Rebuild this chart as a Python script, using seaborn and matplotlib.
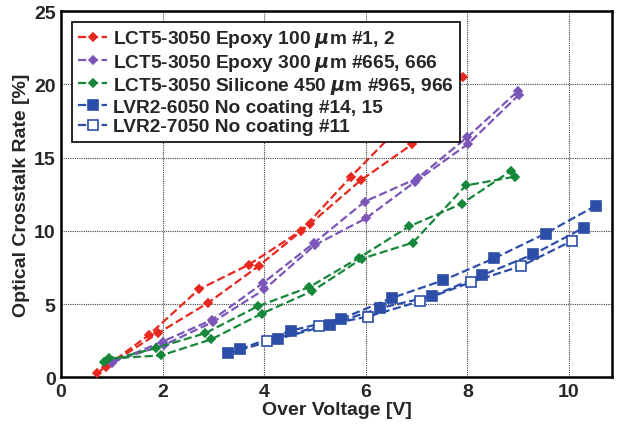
import pandas as pd
import matplotlib
matplotlib.use("Agg")
import matplotlib.pyplot as plt
import seaborn as sns

# Series names (legend order)
series_names = [
    "LCT5-3050 Epoxy 100 $\\mu$m #1, 2",
    "LCT5-3050 Epoxy 300 $\\mu$m #665, 666",
    "LCT5-3050 Silicone 450 $\\mu$m #965, 966",
    "LVR2-6050 No coating #14, 15",
    "LVR2-7050 No coating #11",
]

# red: two devices (#1, #2)
red_x1 = [0.70, 1.73, 2.71, 3.70, 4.72, 5.71, 6.70, 7.76]
red_y1 = [0.27, 2.90, 6.00, 7.70, 10.0, 13.7, 17.2, 20.3]
red_x2 = [0.89, 1.90, 2.90, 3.89, 4.91, 5.90, 6.91, 7.92]
red_y2 = [0.73, 3.00, 5.10, 7.60, 10.5, 13.45, 15.9, 20.5]

# purple: two devices (#665, #666)
pur_x1 = [1.00, 2.00, 2.98, 3.98, 4.99, 5.98, 7.02, 8.00, 9.00]
pur_y1 = [1.00, 2.45, 3.94, 6.45, 9.20, 12.0, 13.6, 16.4, 19.55]
pur_x2 = [1.02, 2.02, 3.00, 4.00, 5.00, 6.00, 6.97, 8.02, 9.02]
pur_y2 = [1.10, 2.20, 3.80, 6.00, 9.04, 10.85, 13.35, 15.95, 19.3]

# green: two devices (#965, #966)
grn_x1 = [0.85, 1.86, 2.84, 3.87, 4.88, 5.86, 6.85, 7.89, 8.86]
grn_y1 = [1.08, 2.00, 3.02, 4.85, 6.15, 8.15, 10.3, 11.85, 14.1]
grn_x2 = [0.95, 1.97, 2.96, 3.95, 4.95, 5.92, 6.93, 7.97, 8.94]
grn_y2 = [1.30, 1.50, 2.60, 4.35, 5.90, 8.10, 9.20, 13.1, 13.7]

# blue filled: two devices (#14, #15)
blu_x1 = [3.29, 4.28, 5.29, 6.29, 7.30, 8.28, 9.30, 10.30]
blu_y1 = [1.65, 2.63, 3.60, 4.74, 5.54, 6.96, 8.40, 10.23]
blu_x2 = [3.52, 4.53, 5.52, 6.52, 7.52, 8.53, 9.54, 10.53]
blu_y2 = [1.92, 3.20, 4.00, 5.43, 6.62, 8.13, 9.82, 11.72]

# blue open: one device (#11)
opn_x = [4.06, 5.07, 6.04, 7.07, 8.07, 9.06, 10.06]
opn_y = [2.50, 3.48, 4.15, 5.20, 6.50, 7.60, 9.32]

colors = ["#e8271f", "#7b56b8", "#17873b", "#2c4ea8", "#2c4ea8"]
markers = ["D", "D", "D", "s", "s"]
marker_sizes = [4.2, 4.2, 4.2, 6.5, 6.5]

groups = [
    [(red_x1, red_y1), (red_x2, red_y2)],
    [(pur_x1, pur_y1), (pur_x2, pur_y2)],
    [(grn_x1, grn_y1), (grn_x2, grn_y2)],
    [(blu_x1, blu_y1), (blu_x2, blu_y2)],
    [(opn_x, opn_y)],
]

rows = []
for name, devices in zip(series_names, groups):
    for k, (xs, ys) in enumerate(devices):
        for x, y in zip(xs, ys):
            rows.append({"series": name, "device": k, "x": x, "y": y})
data = pd.DataFrame(rows)

sns.set_style("white")
plt.rcParams["font.family"] = ["Liberation Sans", "DejaVu Sans"]
plt.rcParams["font.weight"] = "bold"
plt.rcParams["mathtext.default"] = "it"

fig = plt.figure(figsize=(6.17, 4.31), dpi=100)
ax = fig.add_axes([0.099, 0.122, 0.893, 0.85])

for i, name in enumerate(series_names):
    sub = data[data["series"] == name]
    face = "white" if i == 4 else colors[i]
    sns.lineplot(
        data=sub, x="x", y="y", units="device", estimator=None, sort=False,
        color=colors[i], linestyle="--", linewidth=1.6,
        marker=markers[i], markersize=marker_sizes[i],
        markerfacecolor=face, markeredgecolor=colors[i], markeredgewidth=1.2,
        label=name, ax=ax, zorder=3,
    )

ax.set_xlim(0, 10.85)
ax.set_ylim(0, 25)
ax.set_xticks([0, 2, 4, 6, 8, 10])
ax.set_yticks([0, 5, 10, 15, 20, 25])
ax.grid(True, color="#444444", linestyle=(0, (1, 1)), linewidth=0.8)
ax.tick_params(length=0, labelsize=14, pad=4)
for lab in ax.get_xticklabels() + ax.get_yticklabels():
    lab.set_fontweight("bold")
for sp in ax.spines.values():
    sp.set_linewidth(1.8)
    sp.set_color("black")

ax.set_xlabel("Over Voltage [V]", fontsize=14, fontweight="bold", labelpad=1)
ax.set_ylabel("Optical Crosstalk Rate [%]", fontsize=14, fontweight="bold", labelpad=3)

handles, labels = ax.get_legend_handles_labels()
seen = {}
for h, l in zip(handles, labels):
    if l not in seen:
        seen[l] = h
leg = ax.legend(
    list(seen.values()), list(seen.keys()), loc="upper left",
    prop={"weight": "bold", "size": 13.8},
    handlelength=1.5, handletextpad=0.3, labelspacing=0.12,
    borderpad=0.35, borderaxespad=0.55, fancybox=False, framealpha=1,
)
leg.get_frame().set_edgecolor("black")
leg.get_frame().set_linewidth(1.2)
leg.set_zorder(5)

fig.savefig("out.png", dpi=100)
